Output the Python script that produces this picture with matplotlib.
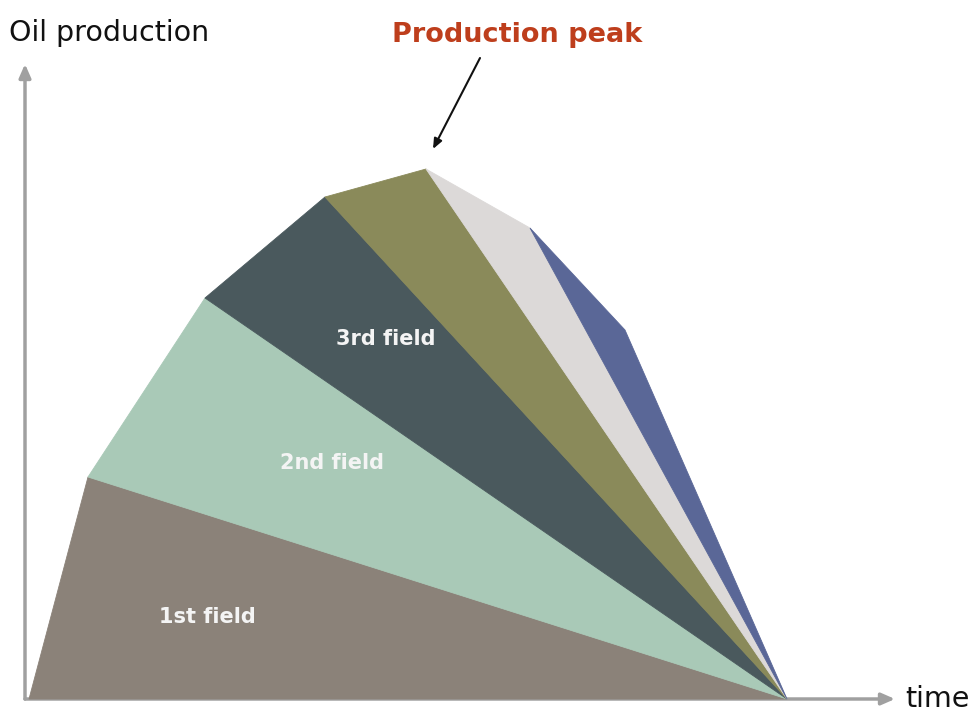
import matplotlib
matplotlib.use("Agg")
import matplotlib.pyplot as plt

# Envelope of total production (time, production) - corner points of the stacked fan
env_time = [4, 63, 180, 300, 401, 505, 600]
env_prod = [0, 222, 401, 502, 530, 471, 369]
end_time = 762  # all fields decline to zero at this time

field_colors = ["#8B8279", "#A9C9B7", "#4A595D", "#8A8A5A", "#DCD9D8", "#5A6797"]
field_labels = ["1st field", "2nd field", "3rd field", "", "", ""]
label_pos = [(182, 82), (307, 236), (361, 360)]

fig = plt.figure(figsize=(9.75, 7.13), dpi=100)
ax = fig.add_axes([0, 0, 1, 1])
ax.set_xlim(-25, 950)
ax.set_ylim(-14, 699)
ax.axis("off")

for i in range(len(field_colors)):
    xs = [env_time[i], env_time[i + 1], end_time]
    ys = [env_prod[i], env_prod[i + 1], 0]
    ax.fill(xs, ys, color=field_colors[i], lw=0.6, ec=field_colors[i], zorder=2)

for (lx, ly), lab in zip(label_pos, field_labels[:3]):
    ax.text(lx, ly, lab, color="#F4F4F4", fontsize=15, fontweight="bold",
            ha="center", va="center", zorder=3)

axis_col = "#A0A0A0"
ax.annotate("", xy=(870, 0), xytext=(0, 0),
            arrowprops=dict(arrowstyle="-|>,head_length=0.8,head_width=0.35", color=axis_col, lw=2.5,
                            shrinkA=0, shrinkB=0), zorder=1)
ax.annotate("", xy=(0, 635), xytext=(0, 0),
            arrowprops=dict(arrowstyle="-|>,head_length=0.8,head_width=0.35", color=axis_col, lw=2.5,
                            shrinkA=0, shrinkB=0), zorder=1)

ax.text(-16, 666, "Oil production", fontsize=20.5, color="#111111", ha="left", va="center")
ax.text(880, 0, "time", fontsize=20.5, color="#111111", ha="left", va="center")

ax.text(492, 664, "Production peak", fontsize=19.5, fontweight="bold", color="#BE3E1C",
        ha="center", va="center")
ax.annotate("", xy=(408, 550), xytext=(455, 641),
            arrowprops=dict(arrowstyle="-|>,head_length=0.6,head_width=0.25", color="#111111", lw=1.5,
                            shrinkA=0, shrinkB=0))

fig.savefig("out.png", dpi=100)
